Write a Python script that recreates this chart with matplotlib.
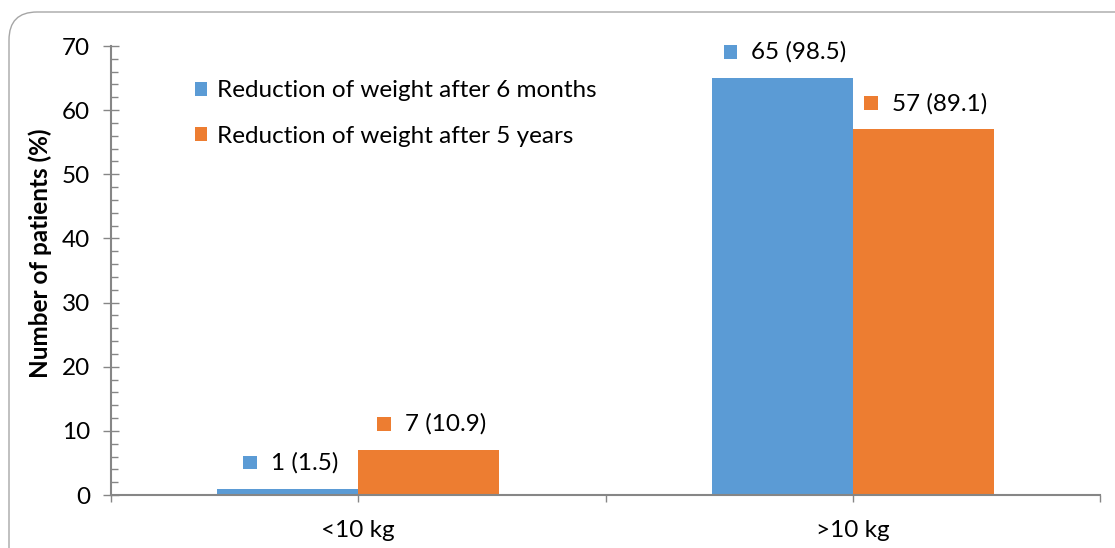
import matplotlib
matplotlib.use("Agg")
import matplotlib.pyplot as plt
from matplotlib.patches import FancyBboxPatch, Rectangle
from matplotlib.offsetbox import HPacker, TextArea, DrawingArea, AnnotationBbox

plt.rcParams['font.family'] = ['Lato', 'DejaVu Sans']

categories = ['<10 kg', '>10 kg']
series_names = ['Reduction of weight after 6 months', 'Reduction of weight after 5 years']
counts_6m = [1, 65]
counts_5y = [7, 57]
pct_6m = [1.5, 98.5]
pct_5y = [10.9, 89.1]
colors = ['#5B9BD5', '#ED7D31']
ylabel = 'Number of patients (%)'

FS = 17.5

fig = plt.figure(figsize=(11.15, 5.48), dpi=100)
ax = fig.add_axes([111/1115, 53/548, 989/1115, 449/548])

# rounded border
border = FancyBboxPatch((0.09, -0.5), 11.5, 5.86, boxstyle="round,pad=0,rounding_size=0.28",
                        transform=fig.dpi_scale_trans, fill=False, edgecolor='#A6A6A6',
                        linewidth=1.0, clip_on=False)
fig.patches.append(border)

width = 0.285
xs = list(range(len(categories)))
series = [(counts_6m, pct_6m), (counts_5y, pct_5y)]
offsets = [-width/2, width/2]
for (vals, pcts), off, col, name in zip(series, offsets, colors, series_names):
    bars = ax.bar([x + off for x in xs], vals, width=width, color=col, label=name, zorder=2)
    for b, v, p in zip(bars, vals, pcts):
        da = DrawingArea(10, 10, 0, 0)
        da.add_artist(Rectangle((0, 0), 10, 10, facecolor=col, edgecolor='none'))
        ta = TextArea(f"{v} ({p})", textprops=dict(fontsize=FS, color='#000000'))
        pack = HPacker(children=[da, ta], align='center', pad=0, sep=10)
        ab = AnnotationBbox(pack, (b.get_x() + b.get_width()/2, v), xybox=(2, 11),
                            xycoords='data', boxcoords='offset points',
                            box_alignment=(0.5, 0), frameon=False, annotation_clip=False)
        ax.add_artist(ab)

ax.set_xlim(-0.5, 1.5)
ax.set_ylim(0, 70)
ax.set_xticks(xs)
ax.set_xticklabels(categories, fontsize=FS)
ax.set_xticks([-0.5, 0.5, 1.5], minor=True)
ax.set_yticks(range(0, 71, 10))
ax.set_yticks(range(0, 71, 2), minor=True)
ax.tick_params(axis='y', which='major', direction='inout', length=11, width=1, color='#868686',
               labelsize=FS, pad=9.5)
ax.tick_params(axis='y', which='minor', direction='in', length=5, width=1, color='#868686')
ax.tick_params(axis='x', which='both', direction='out', length=5, width=1, color='#868686',
               labelsize=FS, pad=13)

for s in ['top', 'right']:
    ax.spines[s].set_visible(False)
for s in ['left', 'bottom']:
    ax.spines[s].set_color('#868686')
    ax.spines[s].set_linewidth(1.5)
    ax.spines[s].set_zorder(3)

ax.set_ylabel(ylabel, fontsize=17.5, fontweight='bold')
ax.yaxis.set_label_coords(-0.06, 0.539)

leg = ax.legend(loc='upper left', bbox_to_anchor=(0.075, 0.945), frameon=False, fontsize=FS,
                handlelength=0.5, handleheight=0.5, handletextpad=0.4, labelspacing=1.0,
                borderaxespad=0)

fig.savefig('out.png', dpi=100)
